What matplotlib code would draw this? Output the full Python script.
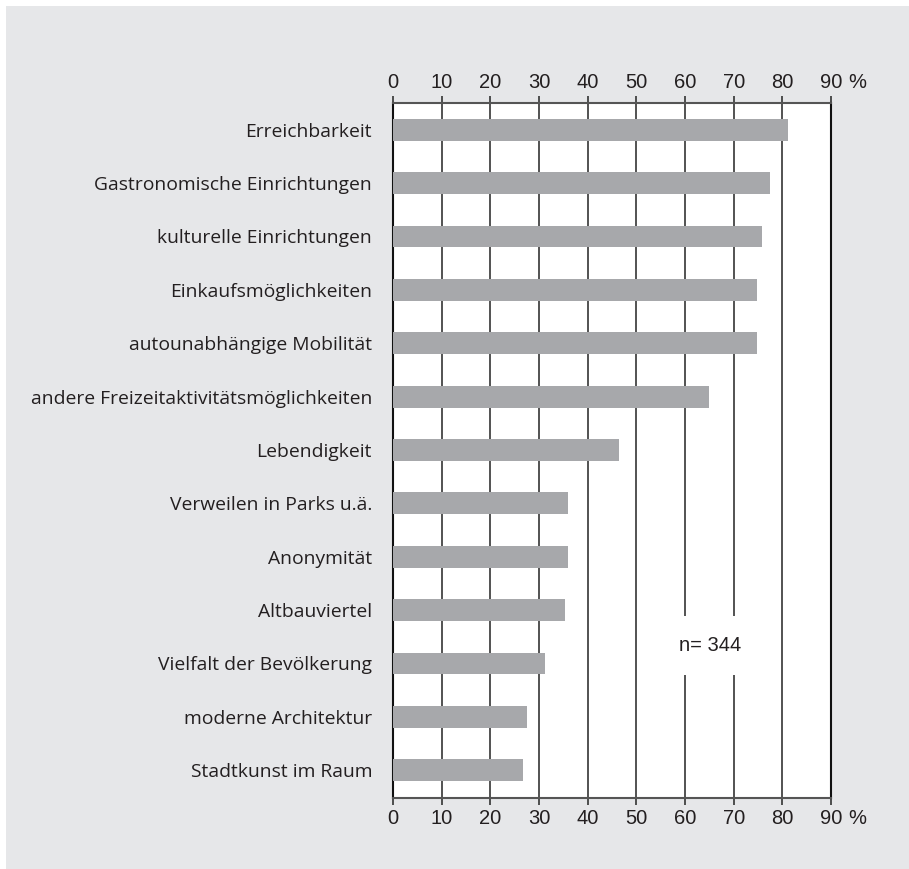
import numpy as np
from matplotlib import pyplot as plt
from matplotlib.patches import Rectangle

categories = [
    "Erreichbarkeit",
    "Gastronomische Einrichtungen",
    "kulturelle Einrichtungen",
    "Einkaufsmöglichkeiten",
    "autounabhängige Mobilität",
    "andere Freizeitaktivitätsmöglichkeiten",
    "Lebendigkeit",
    "Verweilen in Parks u.ä.",
    "Anonymität",
    "Altbauviertel",
    "Vielfalt der Bevölkerung",
    "moderne Architektur",
    "Stadtkunst im Raum",
]
values = [81.1, 77.4, 75.9, 74.9, 74.7, 64.9, 46.4, 35.9, 35.9, 35.3, 31.2, 27.5, 26.7]
xticks = [0, 10, 20, 30, 40, 50, 60, 70, 80, 90]
n_label = "n= 344"

text_col = "#231f20"
bar_col = "#a7a8ab"
panel_col = "#e6e7e9"

fig = plt.figure(figsize=(9.09, 8.69), dpi=100)
fig.patch.set_facecolor("white")
fig.patches.append(Rectangle((6 / 909, 0), 1, 1 - 6 / 869, transform=fig.transFigure,
                             facecolor=panel_col, edgecolor="none", zorder=-10))

ax = fig.add_axes([392.9 / 909, 1 - 798 / 869, (831 - 392.9) / 909, (798 - 103) / 869])
ax.set_facecolor("white")

y = np.arange(len(categories))
ax.barh(y, values, height=0.41, color=bar_col, zorder=3)

ax.set_xlim(0, 90)
ax.set_ylim(12.52, -0.5)
ax.set_xticks(xticks)
ax.set_yticks(y)
ax.set_yticklabels(categories, fontsize=13.9, family="Open Sans", color=text_col)
ax.tick_params(axis="y", length=0, pad=15)
ax.tick_params(axis="x", top=True, labeltop=True, direction="out", length=5,
               width=1.2, color="#333333", labelsize=14.5, labelcolor=text_col, pad=3)
for lab in ax.get_xticklabels():
    lab.set_family("Liberation Sans")

ax.grid(axis="x", color="#444444", linewidth=1.3, zorder=1)
for side in ["left", "right"]:
    ax.spines[side].set_color("#111111")
    ax.spines[side].set_linewidth(1.5)
for side in ["top", "bottom"]:
    ax.spines[side].set_color("#555555")
    ax.spines[side].set_linewidth(1.5)

# percent signs next to both axes
for ypix in [82, 819]:
    fig.text(857 / 909, 1 - ypix / 869, "%", ha="center", va="center",
             fontsize=14.5, family="Liberation Sans", color=text_col)

ax.text(65.1, 9.66, n_label, ha="center", va="center", fontsize=14.5,
        family="Liberation Sans", color=text_col, zorder=4,
        bbox=dict(boxstyle="square,pad=1.0", facecolor="white", edgecolor="none"))

fig.savefig("out.png", dpi=100, facecolor=fig.get_facecolor())
